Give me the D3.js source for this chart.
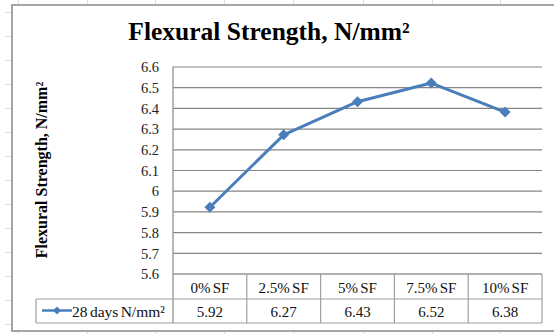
<!DOCTYPE html>
<html><head><meta charset="utf-8">
<script src="https://cdn.jsdelivr.net/npm/d3@7"></script>
<style>html,body{margin:0;padding:0;background:#fff;}svg{display:block;}</style>
</head><body>
<script>
const categories = ["0% SF", "2.5% SF", "5% SF", "7.5% SF", "10% SF"];
const values = [5.92, 6.27, 6.43, 6.52, 6.38];
const seriesName = "28 days N/mm²";
const yTicks = [5.6, 5.7, 5.8, 5.9, 6, 6.1, 6.2, 6.3, 6.4, 6.5, 6.6];
const title = "Flexural Strength, N/mm²";
const yTitle = "Flexural Strength, N/mm²";

const W = 554, H = 334;
const svg = d3.select("body").append("svg").attr("width", W).attr("height", H);
const serif = "'Liberation Serif','Times New Roman',serif";

// spreadsheet background grid
const bg = svg.append("g").attr("stroke", "#d9dde6").attr("stroke-width", 1);
[18, 87, 155, 224, 293, 363, 432, 500].forEach(x => {
  bg.append("line").attr("x1", x + 0.5).attr("x2", x + 0.5).attr("y1", 0).attr("y2", 5);
  bg.append("line").attr("x1", x + 0.5).attr("x2", x + 0.5).attr("y1", 332).attr("y2", H);
});
d3.range(12, 334, 24).forEach(y => {
  bg.append("line").attr("x1", 5).attr("x2", 11).attr("y1", y + 0.5).attr("y2", y + 0.5);
});

// chart frame
svg.append("rect").attr("x", 12).attr("y", 5).attr("width", W).attr("height", 326)
  .attr("fill", "#fff").attr("stroke", "#a6a6a6").attr("stroke-width", 2);

// title
svg.append("text").attr("x", 269).attr("y", 40).attr("text-anchor", "middle")
  .attr("font-family", serif).attr("font-weight", "bold").attr("font-size", 25.5)
  .attr("fill", "#000").text(title);

// y title
svg.append("text").attr("transform", "translate(47,170) rotate(-90)")
  .attr("text-anchor", "middle").attr("font-family", serif).attr("font-weight", "bold")
  .attr("font-size", 16).attr("fill", "#000").text(yTitle);

const plotL = 173, plotR = 542, plotT = 66.5, plotB = 273.5;
const x = d3.scaleBand().domain(categories).range([plotL, plotR]);
const y = d3.scaleLinear().domain([5.6, 6.6]).range([plotB, plotT]);

// gridlines via axis
const yAxis = d3.axisLeft(y).tickValues(yTicks).tickSize(-(plotR - plotL)).tickFormat(d3.format("~g")).tickPadding(14);
const gy = svg.append("g").attr("transform", `translate(${plotL},0)`).call(yAxis);
gy.select(".domain").remove();
gy.selectAll(".tick line").attr("stroke", "#858585").attr("stroke-width", 1.2);
gy.selectAll(".tick text").attr("font-family", serif).attr("font-size", 14.5).attr("fill", "#222").attr("dy", "0.36em");

// table
const rowTop = 274, rowMid = 299, rowBot = 323, legL = 36;
const tbl = svg.append("g").attr("stroke", "#a0a0a0").attr("stroke-width", 1.2).attr("fill", "none");
tbl.append("line").attr("x1", plotL).attr("x2", plotR).attr("y1", rowTop).attr("y2", rowTop);
tbl.append("line").attr("x1", legL).attr("x2", plotR).attr("y1", rowMid).attr("y2", rowMid);
tbl.append("line").attr("x1", legL).attr("x2", plotR).attr("y1", rowBot).attr("y2", rowBot);
tbl.append("line").attr("x1", legL).attr("x2", legL).attr("y1", rowMid).attr("y2", rowBot);
categories.forEach(c => {
  const xr = x(c) + x.bandwidth();
  tbl.append("line").attr("x1", xr).attr("x2", xr).attr("y1", rowTop).attr("y2", rowBot);
});
// y axis line
svg.append("line").attr("x1", plotL).attr("x2", plotL).attr("y1", plotT).attr("y2", rowBot)
  .attr("stroke", "#a0a0a0").attr("stroke-width", 1.5);

svg.append("g").selectAll("text").data(categories).join("text")
  .attr("x", d => x(d) + x.bandwidth() / 2).attr("y", 292.5).attr("text-anchor", "middle")
  .attr("font-family", serif).attr("font-size", 15).attr("fill", "#111")
  .attr("word-spacing", -1.5).text(d => d);
svg.append("g").selectAll("text").data(values).join("text")
  .attr("x", (d, i) => x(categories[i]) + x.bandwidth() / 2).attr("y", 316.5).attr("text-anchor", "middle")
  .attr("font-family", serif).attr("font-size", 15).attr("fill", "#111").text(d => d3.format(".2f")(d));

// diamond marker path (rotated square)
const diamondPath = r => `M0,${-r}L${r},0L0,${r}L${-r},0Z`;

// legend
const blue = "#4a7ebb";
svg.append("line").attr("x1", 42).attr("x2", 72).attr("y1", 310.5).attr("y2", 310.5)
  .attr("stroke", blue).attr("stroke-width", 2.5);
svg.append("path").attr("d", diamondPath(4))
  .attr("transform", "translate(57,310.5)").attr("fill", blue);
svg.append("text").attr("x", 72).attr("y", 316.5).attr("font-family", serif).attr("font-size", 15.5)
  .attr("fill", "#111").attr("word-spacing", -1.5).text(seriesName);

// line
const line = d3.line().x((d, i) => x(categories[i]) + x.bandwidth() / 2).y(d => y(d));
svg.append("path").datum(values).attr("d", line).attr("fill", "none")
  .attr("stroke", blue).attr("stroke-width", 3).attr("stroke-linejoin", "round");
svg.append("g").selectAll("path").data(values).join("path")
  .attr("d", diamondPath(5.5))
  .attr("transform", (d, i) => `translate(${x(categories[i]) + x.bandwidth() / 2},${y(d)})`)
  .attr("fill", blue);
</script>
</body></html>
